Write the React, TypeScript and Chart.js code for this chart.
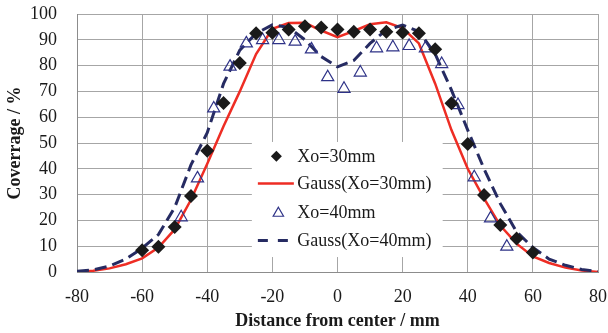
import React, { useEffect, useRef } from "react";
import { Chart, registerables } from "chart.js";

Chart.register(...registerables);

// Measured points, Xo = 30 mm (diamonds)
const X30_POS = [-60, -55, -50, -45, -40, -35, -30, -25, -20, -15, -10, -5, 0, 5, 10, 15, 20, 25, 30, 35, 40, 45, 50, 55, 60];
const X30_VAL = [8.4, 9.8, 17.4, 29.5, 47, 65.5, 81, 92.5, 92.7, 94, 95.3, 94.8, 94, 93.1, 94, 93.1, 92.8, 92.5, 86.3, 65.4, 49.6, 29.8, 18.2, 13, 7.6];

// Measured points, Xo = 40 mm (triangles)
const X40_POS = [-48, -43, -38, -33, -28, -23, -18, -13, -8, -3, 2, 7, 12, 17, 22, 27, 32, 37, 42, 47, 52];
const X40_VAL = [21.2, 36.3, 63.4, 79.6, 88.6, 89.9, 89.9, 89.3, 86.3, 75.5, 71, 77.3, 86.7, 87.1, 87.6, 86.7, 80.6, 64.7, 36.7, 20.8, 9.8];

// Gauss fits
const GAUSS_X = [-80, -75, -70, -65, -60, -55, -50, -45, -40, -35, -30, -25, -20, -15, -10, -5, 0, 5, 10, 15, 20, 25, 30, 35, 40, 45, 50, 55, 60, 65, 70, 75, 80];
const GAUSS30 = [0, 0.5, 1.4, 3, 5.3, 9.5, 16.5, 28, 42, 56.5, 70, 84.5, 94.3, 96.5, 96.6, 93.6, 91, 93.4, 96, 96.8, 94.5, 88.6, 73, 55, 40, 28.5, 18, 11, 6, 3.5, 1.7, 0.6, 0];
const GAUSS40 = [0.3, 0.8, 2.3, 5, 9.2, 14.5, 25, 41.5, 54, 73, 86, 92.5, 95.8, 94.8, 90, 83.5, 79.5, 82, 88.6, 93.8, 95.7, 93.2, 84.5, 70.5, 55, 40, 26.5, 15.6, 9.5, 5, 2.6, 1, 0.2];

const X_TICKS = [-80, -60, -40, -20, 0, 20, 40, 60, 80];
const Y_TICKS = [0, 10, 20, 30, 40, 50, 60, 70, 80, 90, 100];

const LABELS = ["Xo=30mm", "Gauss(Xo=30mm)", "Xo=40mm", "Gauss(Xo=40mm)"];

const RED = "#ee2d24";
const NAVY = "#262b62";
const TRI = "#2e3287";
const FONT = "'Liberation Serif', 'Times New Roman', serif";

const toPts = (xs: number[], ys: number[]) => xs.map((x, i) => ({ x, y: ys[i] }));

const legendPlugin = {
  id: "insideLegend",
  afterDraw(chart: any) {
    const ctx = chart.ctx;
    const xs = chart.scales.x;
    const ys = chart.scales.y;
    const bx0 = xs.getPixelForValue(-26.3);
    const bx1 = xs.getPixelForValue(32.3);
    const by0 = ys.getPixelForValue(50.4);
    const by1 = ys.getPixelForValue(5.8);
    ctx.save();
    ctx.fillStyle = "#ffffff";
    ctx.fillRect(bx0, by0, bx1 - bx0, by1 - by0);
    const rowY = [157.3, 184.5, 213.3, 241.5].map((v) => by0 + (v - 143));
    const symX = bx0 + 24.5;
    const textX = bx0 + 45.5;
    const ds = chart.data.datasets;
    // row 1: diamond
    ctx.fillStyle = "#1a1a1a";
    ctx.beginPath();
    const r = 5.5;
    ctx.moveTo(symX, rowY[0] - r);
    ctx.lineTo(symX + r, rowY[0]);
    ctx.lineTo(symX, rowY[0] + r);
    ctx.lineTo(symX - r, rowY[0]);
    ctx.closePath();
    ctx.fill();
    // row 2: red line
    ctx.strokeStyle = RED;
    ctx.lineWidth = 2.5;
    ctx.beginPath();
    ctx.moveTo(bx0 + 6, rowY[1]);
    ctx.lineTo(bx0 + 42, rowY[1]);
    ctx.stroke();
    // row 3: triangle
    ctx.strokeStyle = TRI;
    ctx.lineWidth = 1.2;
    ctx.beginPath();
    const tr = 6;
    const tx = symX + 2;
    const ty = rowY[2] + 1;
    ctx.moveTo(tx, ty - tr);
    ctx.lineTo(tx + tr * 0.866, ty + tr * 0.5);
    ctx.lineTo(tx - tr * 0.866, ty + tr * 0.5);
    ctx.closePath();
    ctx.stroke();
    // row 4: dashed navy line
    ctx.strokeStyle = NAVY;
    ctx.lineWidth = 3;
    ctx.setLineDash([10, 10]);
    ctx.beginPath();
    ctx.moveTo(bx0 + 6, rowY[3]);
    ctx.lineTo(bx0 + 38, rowY[3]);
    ctx.stroke();
    ctx.setLineDash([]);
    // texts
    ctx.fillStyle = "#1a1a1a";
    ctx.font = `18px ${FONT}`;
    ctx.textBaseline = "middle";
    ctx.textAlign = "left";
    [0, 1, 2, 3].forEach((i) => {
      ctx.fillText(ds[i].label, textX, rowY[i] + 1);
    });
    ctx.restore();
  },
};

export default function App() {
  const ref = useRef<HTMLCanvasElement | null>(null);

  useEffect(() => {
    if (!ref.current) return;
    const chart = new Chart(ref.current, {
      type: "scatter",
      data: {
        datasets: [
          {
            label: LABELS[0],
            data: toPts(X30_POS, X30_VAL),
            pointStyle: "rectRot",
            pointRadius: 7,
            backgroundColor: "#1a1a1a",
            borderColor: "#1a1a1a",
            borderWidth: 0,
            showLine: false,
            order: 0,
          },
          {
            label: LABELS[1],
            data: toPts(GAUSS_X, GAUSS30),
            type: "line",
            borderColor: RED,
            borderWidth: 2.5,
            pointRadius: 0,
            tension: 0,
            fill: false,
            order: 3,
          },
          {
            label: LABELS[2],
            data: toPts(X40_POS, X40_VAL),
            pointStyle: "triangle",
            pointRadius: 7,
            backgroundColor: "rgba(255,255,255,0)",
            borderColor: TRI,
            borderWidth: 1.2,
            showLine: false,
            order: 1,
          },
          {
            label: LABELS[3],
            data: toPts(GAUSS_X, GAUSS40),
            type: "line",
            borderColor: NAVY,
            borderWidth: 3,
            borderDash: [12, 6],
            pointRadius: 0,
            tension: 0,
            fill: false,
            order: 2,
          },
        ] as any,
      },
      options: {
        animation: false,
        responsive: false,
        events: [],
        layout: { padding: { left: 0, right: 10, top: 14, bottom: 0 } },
        plugins: {
          legend: { display: false },
          tooltip: { enabled: false },
        },
        scales: {
          x: {
            type: "linear",
            min: -80,
            max: 80,
            afterBuildTicks: (axis: any) => {
              axis.ticks = X_TICKS.map((v) => ({ value: v }));
            },
            afterFit: (axis: any) => {
              axis.height = 61;
              axis.paddingLeft = 0;
              axis.paddingRight = 0;
            },
            grid: { color: "#a6a6a6", lineWidth: 1, drawTicks: false },
            border: { color: "#8c8c8c", width: 1 },
            ticks: {
              padding: 14,
              autoSkip: false,
              color: "#1a1a1a",
              font: { family: FONT, size: 18 },
              maxRotation: 0,
            },
            title: {
              display: true,
              text: "Distance from center / mm",
              color: "#1a1a1a",
              font: { family: FONT, size: 18, weight: "bold" },
              padding: { top: 0, bottom: 1 },
            },
          },
          y: {
            type: "linear",
            min: 0,
            max: 100,
            afterBuildTicks: (axis: any) => {
              axis.ticks = Y_TICKS.map((v) => ({ value: v }));
            },
            afterFit: (axis: any) => {
              axis.width = 77;
              axis.paddingTop = 0;
              axis.paddingBottom = 0;
            },
            grid: { color: "#a6a6a6", lineWidth: 1, drawTicks: false },
            border: { color: "#8c8c8c", width: 1 },
            ticks: {
              padding: 20,
              autoSkip: false,
              color: "#1a1a1a",
              font: { family: FONT, size: 18 },
            },
            title: {
              display: true,
              text: "Coverrage / %",
              color: "#1a1a1a",
              font: { family: FONT, size: 18, weight: "bold" },
              padding: { top: 5, bottom: 0 },
            },
          },
        },
      } as any,
      plugins: [legendPlugin],
    });
    return () => chart.destroy();
  }, []);

  return (
    <div style={{ position: "absolute", left: 0, top: 0, width: 608, height: 333, background: "#fff" }}>
      <canvas ref={ref} width={608} height={333} style={{ display: "block", width: 608, height: 333 }} />
    </div>
  );
}
